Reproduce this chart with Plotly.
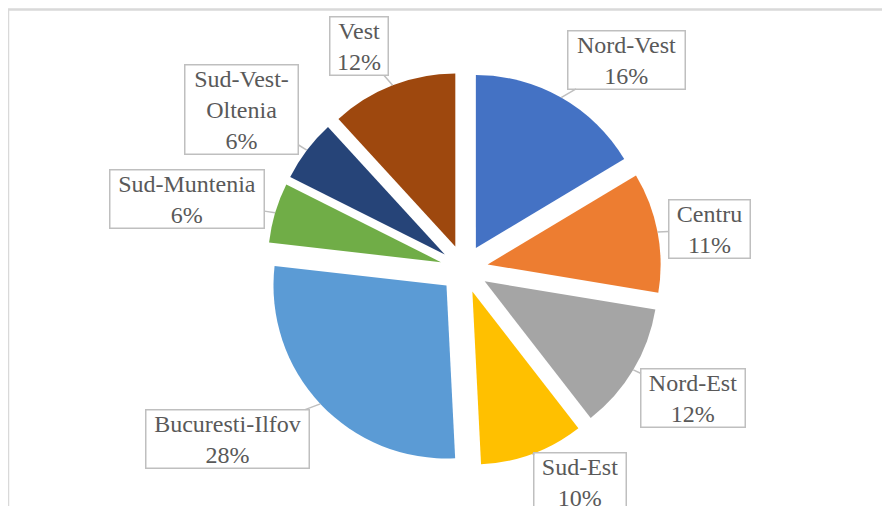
import math
import plotly.graph_objects as go

# ---- data ----
regions = ["Nord-Vest", "Centru", "Nord-Est", "Sud-Est", "Bucuresti-Ilfov",
           "Sud-Muntenia", "Sud-Vest-<br>Oltenia", "Vest"]
shares = [16.4, 11.2, 11.9, 9.7, 27.6, 5.6, 5.8, 11.8]

# ---- style ----
colors = ["#4472C4", "#ED7D31", "#A5A5A5", "#FFC000", "#5B9BD5",
          "#70AD47", "#264478", "#9E480E"]
label_offsets = [(65, -38), (52, -3), (60, 28), (48, 28), (-93, 35),
                 (-88, -14), (-65, -41), (-34, -39)]
box_widths = [119, 83, 106, 94, 165, 156, 115, 60]

W, H = 890, 506
OFF = 8                    # page body margin of the browser
CX, CY = 464 - OFF, 269 - OFF   # pie centre (px, figure coords)
R = 173                    # pie radius (px)
PULL = 0.139
OUTER = R * (1 + PULL)

dom_x = [(CX - OUTER) / W, (CX + OUTER) / W]
dom_y = [1 - (CY + OUTER) / H, 1 - (CY - OUTER) / H]

fig = go.Figure(go.Pie(
    labels=regions,
    values=shares,
    sort=False,
    direction="clockwise",
    rotation=0,
    pull=[PULL] * len(shares),
    marker=dict(colors=colors, line=dict(width=0)),
    textinfo="none",
    hoverinfo="label+percent",
    showlegend=False,
    domain=dict(x=dom_x, y=dom_y),
))

total = sum(shares)
annotations = []
cum = 0.0
for name, v, (ax, ay), bw in zip(regions, shares, label_offsets, box_widths):
    mid = (cum + v / 2) / total * 2 * math.pi
    cum += v
    tx = CX + OUTER * math.sin(mid)
    ty = CY - OUTER * math.cos(mid)
    pct = round(v / total * 100)
    annotations.append(dict(
        x=tx / W, y=1 - ty / H, xref="paper", yref="paper",
        text=f"{name}<br>{pct}%",
        showarrow=True, arrowhead=0, arrowwidth=1.5, arrowcolor="#BFBFBF",
        standoff=0, ax=ax, ay=ay,
        bgcolor="#FFFFFF", bordercolor="#BFBFBF", borderwidth=1.5, borderpad=0,
        width=bw - 3, align="center",
        font=dict(family="Liberation Serif, DejaVu Serif, serif", size=24, color="#595959"),
    ))

fig.update_layout(
    width=W, height=H,
    margin=dict(l=0, r=0, t=0, b=0),
    paper_bgcolor="#FFFFFF",
    plot_bgcolor="#FFFFFF",
    font=dict(family="Liberation Serif, DejaVu Serif, serif"),
    annotations=annotations,
    shapes=[dict(type="rect", xref="paper", yref="paper",
                 x0=0, x1=1.05, y0=-0.1, y1=1 - 1.5 / H,
                 line=dict(color="#D9D9D9", width=2.5), fillcolor="rgba(0,0,0,0)",
                 layer="below")],
)

fig.write_html("out.html")
